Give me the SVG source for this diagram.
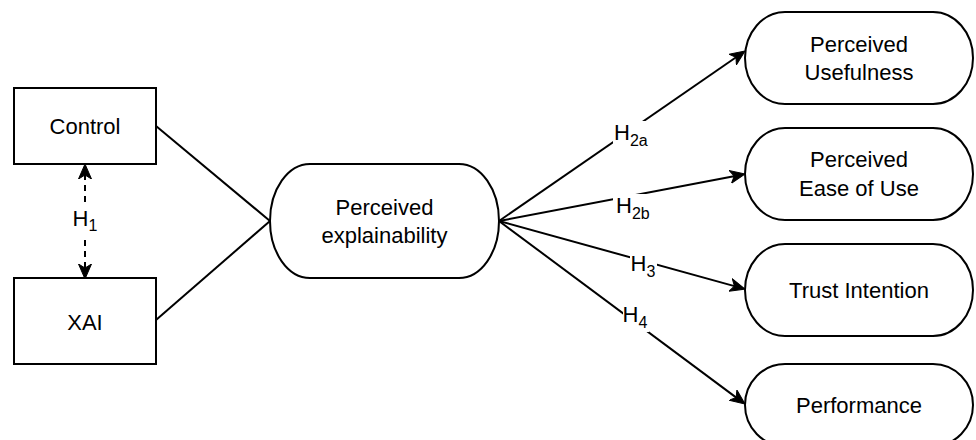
<svg xmlns="http://www.w3.org/2000/svg" width="976" height="440" viewBox="0 0 976 440">
<style>
.box{fill:#fff;stroke:#000;stroke-width:2}
.ln{fill:none;stroke:#000;stroke-width:2}
.dash{stroke-dasharray:6 5}
.t{font-family:"Liberation Sans",Arial,Helvetica,sans-serif;font-size:22px;fill:#000;text-anchor:middle}
.h{font-family:"Liberation Sans",Arial,Helvetica,sans-serif;font-size:22px;fill:#000}
.sub{font-size:16px}
.bg{fill:#fff;stroke:none}
</style>
<defs>
<marker id="arr" markerUnits="userSpaceOnUse" markerWidth="16" markerHeight="14" viewBox="0 0 16 14" refX="5" refY="7" orient="auto-start-reverse">
<path d="M15,7 L0,0.5 L4,7 L0,13.5 Z" fill="#000" stroke="#000" stroke-width="1" stroke-linejoin="miter"/>
</marker>
</defs>
<rect width="976" height="440" fill="#fff"/>
<g id="connectors">
<line class="ln" x1="156" y1="126" x2="270" y2="221"/>
<line class="ln" x1="156" y1="320" x2="270" y2="221"/>
<line class="ln dash" x1="85" y1="174" x2="85" y2="269" marker-start="url(#arr)" marker-end="url(#arr)"/>
<line class="ln" x1="499" y1="221" x2="736.8" y2="56.7" marker-end="url(#arr)"/>
<line class="ln" x1="499" y1="221" x2="735.2" y2="175.9" marker-end="url(#arr)"/>
<line class="ln" x1="499" y1="221" x2="735.4" y2="286.4" marker-end="url(#arr)"/>
<line class="ln" x1="499" y1="221" x2="737" y2="398.1" marker-end="url(#arr)"/>
<g id="label-h1"><rect class="bg" x="72" y="207" width="25" height="28"/><text class="h" x="72.5" y="226">H<tspan class="sub" dy="5">1</tspan></text></g>
<g id="label-h2a"><rect class="bg" x="613" y="121" width="38" height="28"/><text class="h" x="614" y="140">H<tspan class="sub" dy="6">2a</tspan></text></g>
<g id="label-h2b"><rect class="bg" x="613" y="194" width="40" height="28"/><text class="h" x="616" y="213">H<tspan class="sub" dy="6">2b</tspan></text></g>
<g id="label-h3"><rect class="bg" x="630" y="255" width="27" height="26"/><text class="h" x="630.5" y="271">H<tspan class="sub" dy="6">3</tspan></text></g>
<g id="label-h4"><rect class="bg" x="623" y="305" width="26" height="27"/><text class="h" x="622.5" y="322">H<tspan class="sub" dy="6">4</tspan></text></g>
</g>
<g id="control"><rect class="box" x="14" y="88" width="142" height="76"/><text class="t" x="85" y="134">Control</text></g>
<g id="xai"><rect class="box" x="14" y="278" width="142" height="86"/><text class="t" x="85" y="330">XAI</text></g>
<g id="explainability"><rect class="box" x="270" y="164" width="229" height="114" rx="40" ry="57"/><text class="t" x="384.5" y="215">Perceived</text><text class="t" x="384.5" y="243">explainability</text></g>
<g id="usefulness"><rect class="box" x="745" y="12" width="228" height="92" rx="40" ry="46"/><text class="t" x="859" y="52">Perceived</text><text class="t" x="859" y="80">Usefulness</text></g>
<g id="ease"><rect class="box" x="745" y="128" width="228" height="92" rx="40" ry="46"/><text class="t" x="859" y="167">Perceived</text><text class="t" x="859" y="196">Ease of Use</text></g>
<g id="trust"><rect class="box" x="745" y="244" width="228" height="92" rx="40" ry="46"/><text class="t" x="859" y="298">Trust Intention</text></g>
<g id="performance"><rect class="box" x="745" y="364" width="228" height="82" rx="40" ry="41"/><text class="t" x="859" y="413">Performance</text></g>
</svg>
